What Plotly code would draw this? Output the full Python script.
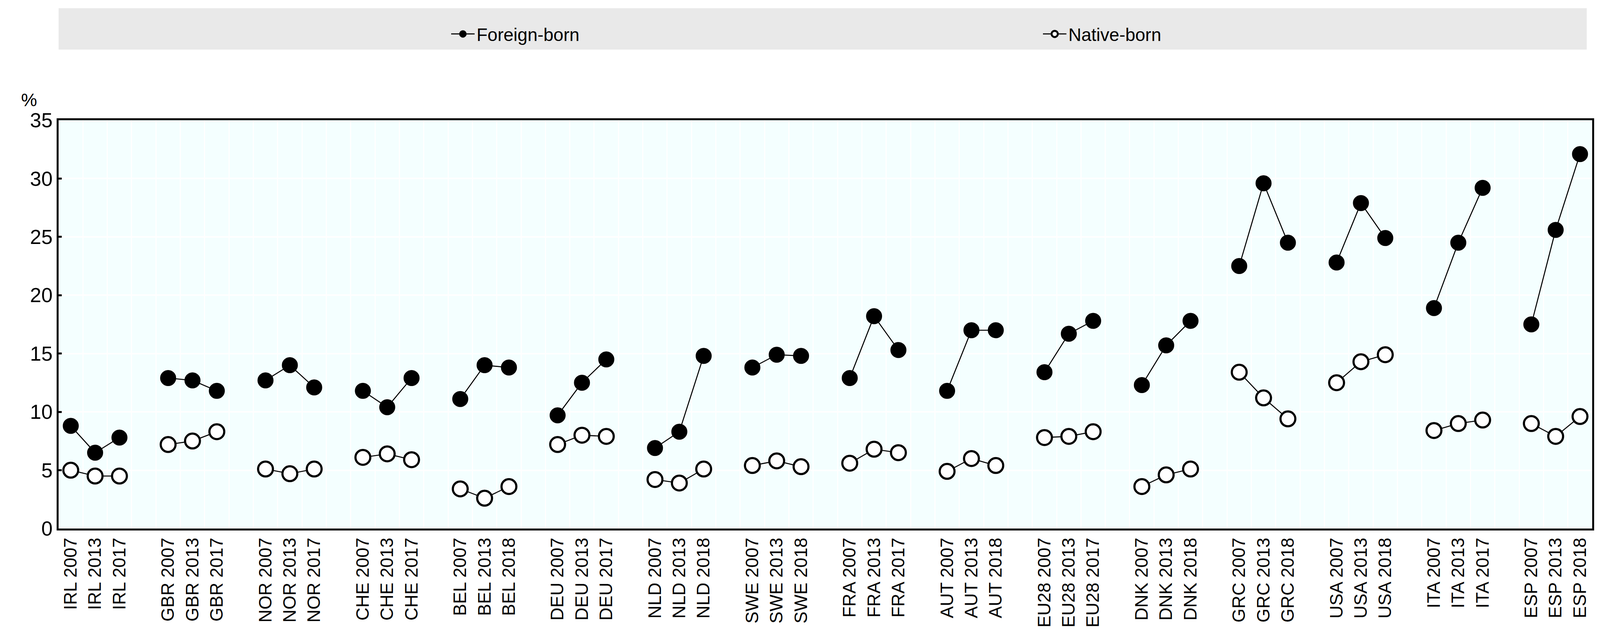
import plotly.graph_objects as go

countries = ["IRL","GBR","NOR","CHE","BEL","DEU","NLD","SWE","FRA","AUT","EU28","DNK","GRC","USA","ITA","ESP"]
years = [["2007","2013","2017"],["2007","2013","2017"],["2007","2013","2017"],["2007","2013","2017"],
         ["2007","2013","2018"],["2007","2013","2017"],["2007","2013","2018"],["2007","2013","2018"],
         ["2007","2013","2017"],["2007","2013","2018"],["2007","2013","2017"],["2007","2013","2018"],
         ["2007","2013","2018"],["2007","2013","2018"],["2007","2013","2017"],["2007","2013","2018"]]
foreign = [[8.8,6.5,7.8],[12.9,12.7,11.8],[12.7,14.0,12.1],[11.8,10.4,12.9],[11.1,14.0,13.8],
           [9.7,12.5,14.5],[6.9,8.3,14.8],[13.8,14.9,14.8],[12.9,18.2,15.3],[11.8,17.0,17.0],
           [13.4,16.7,17.8],[12.3,15.7,17.8],[22.5,29.6,24.5],[22.8,27.9,24.9],[18.9,24.5,29.2],[17.5,25.6,32.1]]
native = [[5.0,4.5,4.5],[7.2,7.5,8.3],[5.1,4.7,5.1],[6.1,6.4,5.9],[3.4,2.6,3.6],
          [7.2,8.0,7.9],[4.2,3.9,5.1],[5.4,5.8,5.3],[5.6,6.8,6.5],[4.9,6.0,5.4],
          [7.8,7.9,8.3],[3.6,4.6,5.1],[13.4,11.2,9.4],[12.5,14.3,14.9],[8.4,9.0,9.3],[9.0,7.9,9.6]]

xs, fy, ny, tv, tt = [], [], [], [], []
pos = 0
for i, c in enumerate(countries):
    if i > 0:
        xs.append(pos); fy.append(None); ny.append(None); pos += 1
    for j in range(3):
        xs.append(pos); fy.append(foreign[i][j]); ny.append(native[i][j])
        tv.append(pos); tt.append(f"{c} {years[i][j]}")
        pos += 1

fig = go.Figure()
fig.add_trace(go.Scatter(x=xs, y=fy, name="Foreign-born", mode="lines+markers", connectgaps=False,
                         line=dict(color="black", width=2.6),
                         marker=dict(symbol="circle", size=38, color="black", line=dict(color="black", width=3))))
fig.add_trace(go.Scatter(x=xs, y=ny, name="Native-born", mode="lines+markers", connectgaps=False,
                         line=dict(color="black", width=2.6),
                         marker=dict(symbol="circle", size=38, color="white", line=dict(color="black", width=5.5))))

L, R, T, B = 150, 60, 308, 283
W, H = 4136, 1637
pw, ph = W - L - R, H - T - B
def py(p): return (H - B - p) / ph

fig.add_shape(type="rect", xref="paper", yref="paper", x0=0, x1=(4062 - L) / pw, y0=py(127), y1=py(21),
              fillcolor="#E9E9E9", line=dict(width=0), layer="below")
fig.add_annotation(text="%", xref="paper", yref="paper", x=(52 - L) / pw, y=py(228), showarrow=False,
                   font=dict(size=46, family="Liberation Sans Narrow, Arial", color="black"))

fig.update_layout(
    width=W, height=H, margin=dict(l=L, r=R, t=T, b=B, autoexpand=False),
    paper_bgcolor="white", plot_bgcolor="#F4FFFF",
    font=dict(family="Liberation Sans Narrow, Liberation Sans, Arial", color="black"),
    legend=dict(orientation="h", xref="container", yref="container", x=1150 / W, y=1 - 87 / H,
                xanchor="left", yanchor="middle", bgcolor="rgba(0,0,0,0)", entrywidth=1440,
                entrywidthmode="pixels", itemwidth=60, font=dict(size=46, family="Liberation Sans Narrow, Arial")),
    xaxis=dict(range=[-0.5, pos - 0.5], tickvals=tv, ticktext=tt, tickangle=-90, showgrid=False,
               tickfont=dict(size=46, family="Liberation Sans, Arial"), ticks="", automargin=False,
               showline=True, linecolor="black", linewidth=5, mirror=True, zeroline=False,
               minor=dict(tick0=0.5, dtick=1, showgrid=True, gridcolor="white", gridwidth=3)),
    yaxis=dict(range=[0, 35], dtick=5, showgrid=True, gridcolor="white", gridwidth=4, automargin=False,
               ticks="inside", ticklen=8, tickwidth=5, tickcolor="black",
               tickfont=dict(size=52, family="Liberation Sans Narrow, Arial"),
               showline=True, linecolor="black", linewidth=5, mirror=True, zeroline=False),
)
fig.write_html("out.html", config={"displayModeBar": False})
with open("out.html", encoding="utf-8") as f:
    html = f.read()
html = html.replace("<head>", "<head><style>html,body{margin:0;padding:0;overflow:hidden;}</style>", 1)
with open("out.html", "w", encoding="utf-8") as f:
    f.write(html)
